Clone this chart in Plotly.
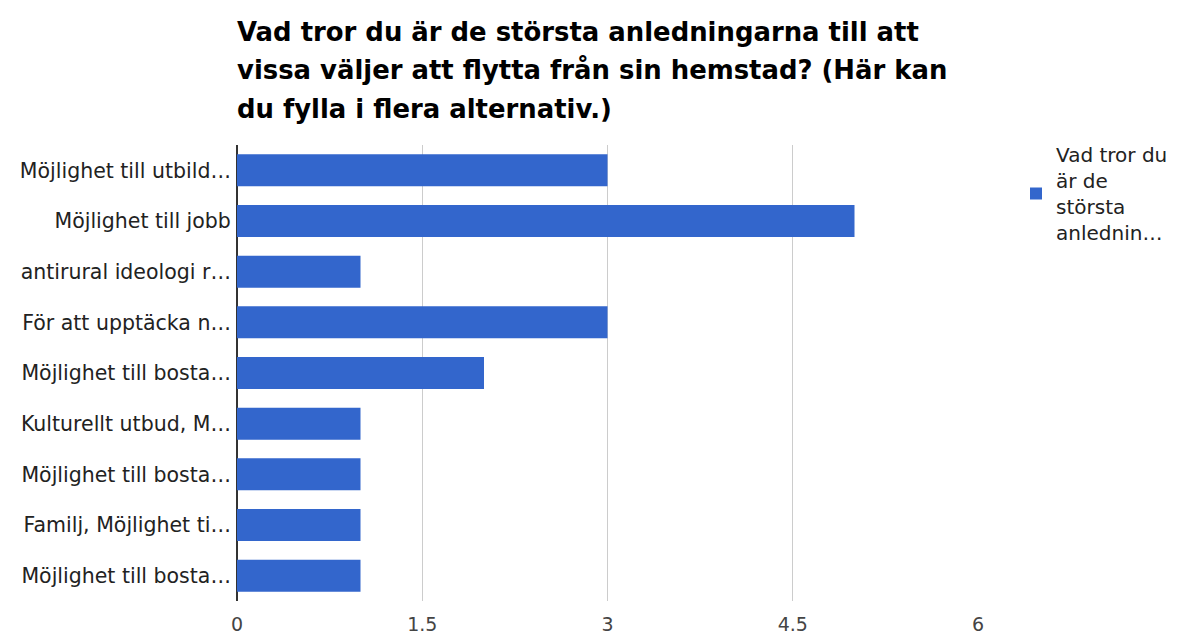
import plotly.graph_objects as go

categories = [
    "Möjlighet till utbild…",
    "Möjlighet till jobb",
    "antirural ideologi r…",
    "För att upptäcka n…",
    "Möjlighet till bosta…",
    "Kulturellt utbud, M…",
    "Möjlighet till bosta…",
    "Familj, Möjlighet ti…",
    "Möjlighet till bosta…",
]
values = [3, 5, 1, 3, 2, 1, 1, 1, 1]
x_ticks = [0, 1.5, 3, 4.5, 6]
x_tick_text = ["0", "1.5", "3", "4.5", "6"]
series_name = "Vad tror du<br>är de<br>största<br>anlednin…"
title_lines = [
    "Vad tror du är de största anledningarna till att",
    "vissa väljer att flytta från sin hemstad? (Här kan",
    "du fylla i flera alternativ.)",
]

positions = list(range(len(categories)))
FONT = "DejaVu Sans"

fig = go.Figure()
fig.add_trace(go.Bar(
    x=values, y=positions, orientation="h",
    marker=dict(color="#3366cc", line=dict(width=0)),
    name=series_name, showlegend=True,
))

# page body has an 8px margin; figure sized so the plot lands where the reference has it
W, H = 1173, 629
ml, mr, mt, mb = 229, 203, 137, 36
ph = H - mt - mb
pw = W - ml - mr

annots = []
for i, line in enumerate(title_lines):
    yc = 24 + 38.3 * i
    annots.append(dict(
        text="<b>" + line + "</b>", xref="paper", yref="paper",
        x=-2 / pw, xanchor="left",
        y=1 + (mt - yc) / ph, yanchor="middle",
        showarrow=False,
        font=dict(family=FONT, size=25.9, color="#000000"),
    ))

fig.update_layout(
    width=W, height=H,
    margin=dict(l=ml, r=mr, t=mt, b=mb, pad=0, autoexpand=False),
    paper_bgcolor="white", plot_bgcolor="white",
    annotations=annots,
    bargap=0.37,
    font=dict(family=FONT, size=20.5, color="#222222"),
    showlegend=True,
    legend=dict(
        x=1 + 38 / pw, y=1 + 10 / ph, xanchor="left", yanchor="top",
        font=dict(family=FONT, size=20, color="#222222"),
        bgcolor="rgba(0,0,0,0)",
    ),
    xaxis=dict(
        range=[0, 6], tickvals=x_ticks, ticktext=x_tick_text,
        showgrid=True, gridcolor="#cccccc", gridwidth=1,
        zeroline=True, zerolinecolor="#333333", zerolinewidth=1.5,
        showline=False, ticks="outside", ticklen=6, tickcolor="rgba(0,0,0,0)",
        tickfont=dict(family=FONT, size=19, color="#444444"),
        automargin=False, fixedrange=True,
    ),
    yaxis=dict(
        tickvals=positions, ticktext=categories,
        range=[len(categories) - 0.5, -0.5],
        showgrid=False, zeroline=False, showline=False,
        ticks="outside", ticklen=1, tickcolor="rgba(0,0,0,0)",
        tickfont=dict(family=FONT, size=20.5, color="#222222"),
        automargin=False, fixedrange=True,
    ),
)

fig.write_html("out.html")
